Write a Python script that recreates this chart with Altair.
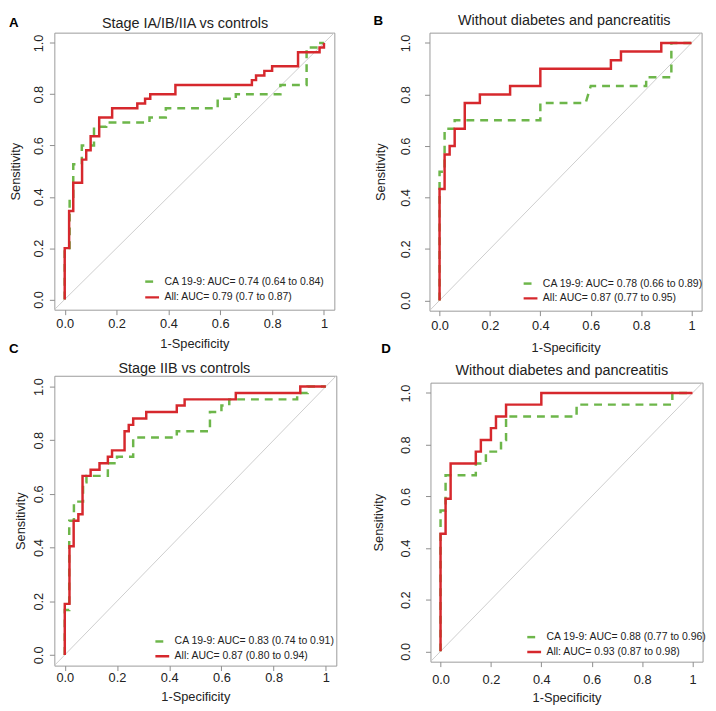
import altair as alt
import pandas as pd

# ---------------- data ----------------
panel_keys = ["A", "B", "C", "D"]
letters = ["A", "B", "C", "D"]
titles = [
    "Stage IA/IB/IIA vs controls",
    "Without diabetes and pancreatitis",
    "Stage IIB vs controls",
    "Without diabetes and pancreatitis",
]
ca_labels = [
    "CA 19-9: AUC= 0.74 (0.64 to 0.84)",
    "CA 19-9: AUC= 0.78 (0.66 to 0.89)",
    "CA 19-9: AUC= 0.83 (0.74 to 0.91)",
    "CA 19-9: AUC= 0.88 (0.77 to 0.96)",
]
all_labels = [
    "All: AUC= 0.79 (0.7 to 0.87)",
    "All: AUC= 0.87 (0.77 to 0.95)",
    "All: AUC= 0.87 (0.80 to 0.94)",
    "All: AUC= 0.93 (0.87 to 0.98)",
]
tick_values = [0, 0.2, 0.4, 0.6, 0.8, 1.0]
axis_domain = [-0.04, 1.04]
diag = [-0.04, 1.04]

# Panel A
a_all_fpr = [0, 0, 0.017, 0.017, 0.033, 0.033, 0.067, 0.067, 0.083, 0.083, 0.1, 0.1, 0.133, 0.133,
             0.183, 0.183, 0.28, 0.28, 0.31, 0.31, 0.33, 0.33, 0.427, 0.427, 0.722, 0.722, 0.738, 0.738,
             0.77, 0.77, 0.80, 0.80, 0.90, 0.90, 0.983, 0.983, 1.0, 1.0]
a_all_tpr = [0, 0.2, 0.2, 0.345, 0.345, 0.455, 0.455, 0.545, 0.545, 0.582, 0.582, 0.636, 0.636, 0.709,
             0.709, 0.745, 0.745, 0.764, 0.764, 0.782, 0.782, 0.8, 0.8, 0.836, 0.836, 0.855, 0.855, 0.873,
             0.873, 0.891, 0.891, 0.909, 0.909, 0.964, 0.964, 0.982, 0.982, 1.0]
a_ca_fpr = [0, 0, 0.019, 0.019, 0.033, 0.033, 0.066, 0.066, 0.113, 0.113, 0.16, 0.16, 0.327, 0.327,
            0.39, 0.39, 0.59, 0.59, 0.66, 0.66, 0.832, 0.832, 0.933, 0.933, 0.986, 0.986, 1.0]
a_ca_tpr = [0, 0.2, 0.2, 0.4, 0.4, 0.527, 0.527, 0.6, 0.6, 0.673, 0.673, 0.69, 0.69, 0.709,
            0.709, 0.745, 0.745, 0.782, 0.782, 0.8, 0.8, 0.836, 0.836, 0.982, 0.982, 1.0, 1.0]

# Panel B
b_all_fpr = [0, 0, 0.02, 0.02, 0.04, 0.04, 0.06, 0.06, 0.10, 0.10, 0.16, 0.16, 0.28, 0.28, 0.40, 0.40,
             0.68, 0.68, 0.72, 0.72, 0.88, 0.88, 1.0]
b_all_tpr = [0, 0.433, 0.433, 0.567, 0.567, 0.6, 0.6, 0.667, 0.667, 0.767, 0.767, 0.8, 0.8, 0.833,
             0.833, 0.9, 0.9, 0.933, 0.933, 0.967, 0.967, 1.0, 1.0]
b_ca_fpr = [0, 0, 0.02, 0.02, 0.06, 0.06, 0.40, 0.40, 0.58, 0.60, 0.82, 0.82, 0.92, 0.92, 1.0]
b_ca_tpr = [0, 0.5, 0.5, 0.667, 0.667, 0.70, 0.70, 0.767, 0.767, 0.833, 0.833, 0.867, 0.867, 1.0, 1.0]

# Panel C
c_all_fpr = [0, 0, 0.018, 0.018, 0.034, 0.034, 0.052, 0.052, 0.068, 0.068, 0.099, 0.099, 0.133, 0.133,
             0.165, 0.165, 0.181, 0.181, 0.229, 0.229, 0.245, 0.245, 0.262, 0.262, 0.312, 0.312,
             0.429, 0.429, 0.459, 0.459, 0.655, 0.655, 0.902, 0.902, 1.0]
c_all_tpr = [0, 0.19, 0.19, 0.405, 0.405, 0.5, 0.5, 0.524, 0.524, 0.667, 0.667, 0.69, 0.69, 0.714,
             0.714, 0.738, 0.738, 0.762, 0.762, 0.833, 0.833, 0.857, 0.857, 0.881, 0.881, 0.905,
             0.905, 0.929, 0.929, 0.952, 0.952, 0.976, 0.976, 1.0, 1.0]
c_ca_fpr = [0, 0, 0.017, 0.017, 0.035, 0.035, 0.07, 0.07, 0.083, 0.083, 0.165, 0.165, 0.2, 0.2,
            0.262, 0.262, 0.429, 0.429, 0.556, 0.556, 0.6, 0.6, 0.63, 0.63, 0.89, 0.89, 0.93, 0.93, 1.0]
c_ca_tpr = [0, 0.167, 0.167, 0.5, 0.5, 0.571, 0.571, 0.643, 0.643, 0.667, 0.667, 0.714, 0.714, 0.738,
            0.738, 0.81, 0.81, 0.833, 0.833, 0.905, 0.905, 0.929, 0.929, 0.952, 0.952, 0.976, 0.976,
            1.0, 1.0]

# Panel D
d_all_fpr = [0, 0, 0.02, 0.02, 0.04, 0.04, 0.14, 0.14, 0.16, 0.16, 0.20, 0.20, 0.22, 0.22, 0.26, 0.26,
             0.40, 0.40, 1.0]
d_all_tpr = [0, 0.455, 0.455, 0.591, 0.591, 0.727, 0.727, 0.773, 0.773, 0.818, 0.818, 0.864, 0.864,
             0.909, 0.909, 0.955, 0.955, 1.0, 1.0]
d_ca_fpr = [0, 0, 0.02, 0.02, 0.14, 0.14, 0.18, 0.18, 0.24, 0.24, 0.26, 0.26, 0.54, 0.54, 0.92, 0.92, 1.0]
d_ca_tpr = [0, 0.545, 0.545, 0.682, 0.682, 0.727, 0.727, 0.773, 0.773, 0.818, 0.818, 0.909, 0.909,
            0.955, 0.955, 1.0, 1.0]

ca_fpr = [a_ca_fpr, b_ca_fpr, c_ca_fpr, d_ca_fpr]
ca_tpr = [a_ca_tpr, b_ca_tpr, c_ca_tpr, d_ca_tpr]
all_fpr = [a_all_fpr, b_all_fpr, c_all_fpr, d_all_fpr]
all_tpr = [a_all_tpr, b_all_tpr, c_all_tpr, d_all_tpr]

# ---------------- styling ----------------
FONT = "Liberation Sans"
RED = "#d6282d"
GREEN = "#6db64a"
TEXT = "#222222"

layout = {
    "A": dict(w=284, h=281, lx=-41, ly=-9.5, tdx=-9.4, ty=-9, ylp=4.4, ytp=10, xlp=3, xtp=7,
              leg_r=196.3, leg_b=30, leg_sp=15),
    "B": dict(w=276, h=282, lx=-52, ly=-11.5, tdx=-1.3, ty=-11.5, ylp=12, ytp=12.7, xlp=4.5, xtp=8.7,
              leg_r=185, leg_b=29, leg_sp=14),
    "C": dict(w=286, h=294, lx=-41, ly=-27, tdx=-11.1, ty=-7, ylp=4.4, ytp=4.6, xlp=1, xtp=6,
              leg_r=188, leg_b=26, leg_sp=13.3),
    "D": dict(w=276, h=283, lx=-45, ly=-34, tdx=-4.8, ty=-11.6, ylp=13.5, ytp=14, xlp=7, xtp=5.5,
              leg_r=182.3, leg_b=26.4, leg_sp=13.3),
}
LEG_FS = 10.6
SYM = 14


def panel(i):
    k = panel_keys[i]
    p = layout[k]
    w, h = p["w"], p["h"]

    ca = pd.DataFrame({"fpr": ca_fpr[i], "tpr": ca_tpr[i], "label": ca_labels[i]})
    ca["idx"] = range(len(ca))
    al = pd.DataFrame({"fpr": all_fpr[i], "tpr": all_tpr[i], "label": all_labels[i]})
    al["idx"] = range(len(al))
    dg = pd.DataFrame({"fpr": diag, "tpr": diag})

    xs = alt.Scale(domain=axis_domain, nice=False, zero=False)
    ys = alt.Scale(domain=axis_domain, nice=False, zero=False)
    xaxis = alt.Axis(
        values=tick_values, labelExpr="datum.value == 1 ? '1' : format(datum.value, '.1f')",
        title="1-Specificity", domain=False, grid=False, tickSize=5, tickColor="#8c8c8c",
        labelFontSize=13, titleFontSize=13, titleFontWeight="normal", labelColor=TEXT,
        titleColor=TEXT, labelPadding=p["xlp"], titlePadding=p["xtp"], labelFlush=False,
        labelOverlap=False, labelFont=FONT, titleFont=FONT,
    )
    yaxis = alt.Axis(
        values=tick_values, format=".1f", title="Sensitivity", domain=False, grid=False,
        tickSize=5, tickColor="#8c8c8c", labelFontSize=13, titleFontSize=13,
        titleFontWeight="normal", labelColor=TEXT, titleColor=TEXT, labelPadding=p["ylp"],
        titlePadding=p["ytp"], labelAngle=270, labelAlign="center", labelBaseline="bottom",
        labelFlush=False, labelOverlap=False, labelFont=FONT, titleFont=FONT,
    )
    X = alt.X("fpr:Q", scale=xs, axis=xaxis)
    Y = alt.Y("tpr:Q", scale=ys, axis=yaxis)

    leg = alt.Legend(
        orient="none", legendX=w - p["leg_r"] + 3, legendY=h - p["leg_b"] - SYM / 2,
        title=None, symbolType="stroke", symbolSize=SYM * SYM, symbolStrokeWidth=2.5,
        labelFontSize=LEG_FS, labelFont=FONT, labelColor=TEXT, labelLimit=0, labelOffset=4,
        rowPadding=max(0, p["leg_sp"] - SYM), padding=0,
    )
    dom = [ca_labels[i], all_labels[i]]
    color = alt.Color("label:N", scale=alt.Scale(domain=dom, range=[GREEN, RED]), legend=leg)
    dash = alt.StrokeDash("label:N", scale=alt.Scale(domain=dom, range=[[8, 6], [1, 0]]), legend=leg)

    diag_line = alt.Chart(dg).mark_line(color="#cdcdcd", strokeWidth=1).encode(x=X, y=Y)
    ca_line = alt.Chart(ca).mark_line(strokeWidth=2.5).encode(
        x=X, y=Y, order="idx:Q", color=color, strokeDash=dash)
    all_line = alt.Chart(al).mark_line(strokeWidth=2.5).encode(
        x=X, y=Y, order="idx:Q", color=color, strokeDash=dash)

    letter = alt.Chart(pd.DataFrame({"t": [letters[i]]})).mark_text(
        font=FONT, fontSize=13.5, fontWeight="bold", align="center", baseline="middle",
        color="black").encode(text="t:N", x=alt.value(p["lx"]), y=alt.value(p["ly"]))
    title = alt.Chart(pd.DataFrame({"t": [titles[i]]})).mark_text(
        font=FONT, fontSize=14.6, align="center", baseline="middle", color=TEXT).encode(
        text="t:N", x=alt.value(w / 2 + p["tdx"]), y=alt.value(p["ty"]))

    return alt.layer(diag_line, ca_line, all_line, letter, title).properties(width=w, height=h)


A, B, C, D = [panel(i) for i in range(4)]

ind = dict(x="independent", y="independent", color="independent", strokeDash="independent")
leg_ind = dict(color="independent", strokeDash="independent")
chart = (
    alt.concat(A, B, C, D, columns=2, align="none", spacing={"row": -14, "column": 33.5})
    .resolve_scale(**ind)
    .resolve_legend(**leg_ind)
    .configure(font=FONT, padding={"left": 0, "top": 0, "right": 0, "bottom": 0})
    .configure_view(stroke="#9a9a9a", strokeWidth=1)
)

chart.save("out.html", embed_options={"renderer": "svg", "actions": False})
